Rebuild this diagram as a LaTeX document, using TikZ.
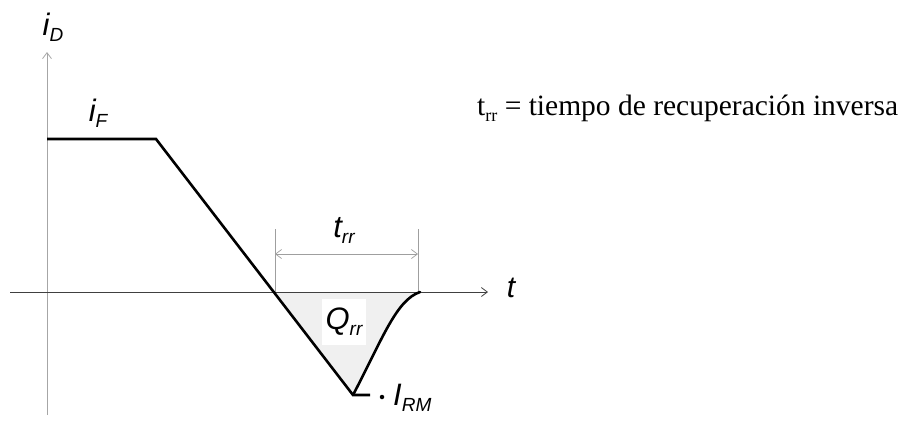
\documentclass[tikz,border=0pt]{standalone}
\usepackage{fontspec}
\setmainfont{Liberation Serif}
\setsansfont{Liberation Sans}
\usetikzlibrary{arrows.meta}
\newcommand{\lbl}[2]{{\sffamily\itshape\fontsize{31}{31}\selectfont #1\raisebox{-6pt}{\fontsize{19}{19}\selectfont #2}}}
\tikzset{
  axisline/.style={draw=gray!70, line width=0.8pt, -{Straight Barb[length=6pt,width=9pt]}},
  xaxisline/.style={draw=black!75, line width=0.8pt, -{Straight Barb[length=6pt,width=9pt]}},
  wave/.style={line width=2.6pt, line join=miter, line cap=butt},
  dimline/.style={draw=gray!75, line width=0.7pt},
  dimarrow/.style={draw=gray!75, line width=0.7pt, {Straight Barb[length=6pt,width=9pt]}-{Straight Barb[length=6pt,width=9pt]}},
  lab/.style={inner sep=0pt},
}
\begin{document}
\begin{tikzpicture}[x=1pt,y=-1pt]
\useasboundingbox (0,0) rectangle (902,437);
% coordinates
\coordinate (yb) at (47,415);
\coordinate (yt) at (47,52);
\coordinate (xl) at (10,292);
\coordinate (xr) at (488,292);
\coordinate (p0) at (47,139);
\coordinate (p1) at (156,139);
\coordinate (z0) at (275,292);
\coordinate (p2) at (353,395);
\coordinate (p3) at (370,395);
\coordinate (z1) at (420,292);
\coordinate (d0) at (275,229);
\coordinate (d1) at (418,229);
\coordinate (a0) at (275,254);
\coordinate (a1) at (418,254);
\coordinate (z1b) at (418,292);
% fill of Q_rr
\fill[black!6] (z0) -- (p2) .. controls (382,340) and (396,300) .. (z1) -- cycle;
% axes
\draw[axisline] (yb) -- (yt);
\draw[xaxisline] (xl) -- (xr);
% dimension
\draw[dimline] (d0) -- (z0);
\draw[dimline] (d1) -- (z1b);
\draw[dimarrow] (a0) -- (a1);
% waveform
\draw[wave] (p0) -- (p1) -- (p2) -- (p3);
\draw[wave, line cap=round] (p2) .. controls (382,340) and (396,300) .. (z1);
\node[circle, fill=black, inner sep=0pt, minimum size=4.5pt] (dot) at (382,397) {};
% labels
\node[lab] (iD) at (53,27) {\lbl{i}{D}};
\node[lab] (iF) at (98,113) {\lbl{i}{F}};
\node[lab] (tlab) at (511,288) {\sffamily\itshape\fontsize{30}{30}\selectfont t};
\node[lab] (trr) at (344,230) {\lbl{t}{rr}};
\node[fill=white, inner xsep=4pt, inner ysep=9pt] (Qrr) at (344,322) {\lbl{Q}{rr}};
\node[lab, anchor=west] (IRM) at (393,398) {\lbl{I}{RM}};
\node[lab, anchor=base west] (def) at (477,115) {\fontsize{29.5}{29.5}\selectfont t\raisebox{-6pt}{\fontsize{18}{18}\selectfont rr} = tiempo de recuperación inversa};
\end{tikzpicture}
\end{document}
